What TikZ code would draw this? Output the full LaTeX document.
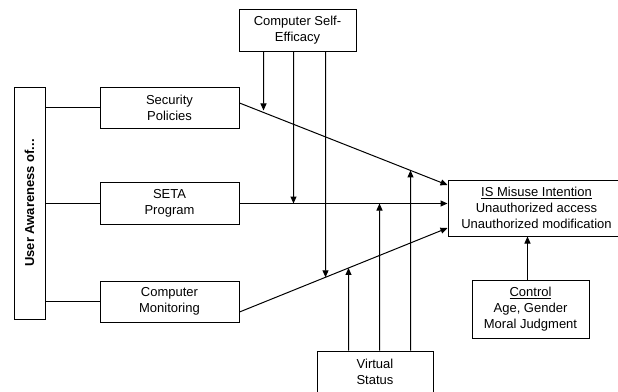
\documentclass[tikz,border=0pt]{standalone}
\usepackage{fontspec}
\setmainfont{Liberation Sans}
\usetikzlibrary{arrows.meta,calc,intersections}
\begin{document}
\begin{tikzpicture}[x=1pt,y=-1pt,
  box/.style={draw,line width=1pt,align=center,inner sep=0pt,
    font=\fontsize{13}{16}\selectfont},
  conn/.style={line width=1pt},
  arr/.style={conn,-{Triangle[length=7pt,width=6pt]}}]
\useasboundingbox (0,0) rectangle (618,391);

% boxes
\node[box,rotate=90,minimum width=232pt,minimum height=31pt,
  font=\bfseries\fontsize{13}{16}\selectfont] (ua) at (29.5,203) {User Awareness of...};
\node[box,minimum width=139pt,minimum height=41pt] (sp) at (169.5,107.5) {Security\\Policies};
\node[box,minimum width=139pt,minimum height=42pt] (seta) at (169.5,203.5) {SETA\\Program};
\node[box,minimum width=139pt,minimum height=41pt] (cm) at (169.5,301.5) {Computer\\Monitoring};
\node[box,minimum width=117pt,minimum height=42pt] (cse) at (297.5,30) {Computer Self-\\Efficacy};
\node[box,minimum width=177pt,minimum height=56pt] (is) at (536.5,208)
  {\underline{IS Misuse Intention}\\Unauthorized access\\Unauthorized modification};
\node[box,minimum width=117pt,minimum height=58pt] (ctl) at (530.5,309)
  {\underline{Control}\\Age, Gender\\Moral Judgment};
\node[box,minimum width=116pt,minimum height=42pt] (vs) at (375,372) {Virtual\\Status};

% awareness links
\draw[conn] (ua.south |- sp.west) -- (sp.west);
\draw[conn] (ua.south |- seta.west) -- (seta.west);
\draw[conn] (ua.south |- cm.west) -- (cm.west);

% main paths into the intention box
\coordinate (spout) at ([yshift=4.5pt]sp.east);
\coordinate (spin) at ([yshift=23pt]is.west);
\coordinate (cmout) at ([yshift=-10.5pt]cm.east);
\coordinate (cmin) at ([yshift=-20pt]is.west);
\draw[arr,name path=lsp] (spout) -- (spin);
\draw[arr,name path=lseta] (seta.east) -- (seta.east -| is.west);
\draw[arr,name path=lcm] (cmout) -- (cmin);

% moderator: computer self-efficacy
\coordinate (c1) at ([xshift=-34pt]cse.south);
\coordinate (c2) at ([xshift=-4pt]cse.south);
\coordinate (c3) at ([xshift=28pt]cse.south);
\path[name path=v1] (c1) -- ++(0,400);
\path[name path=v2] (c2) -- ++(0,400);
\path[name path=v3] (c3) -- ++(0,400);
\path[name intersections={of=lsp and v1,by=t1}];
\path[name intersections={of=lseta and v2,by=t2}];
\path[name intersections={of=lcm and v3,by=t3}];
\draw[arr] (c1) -- ([yshift=2pt]t1);
\draw[arr] (c2) -- (t2);
\draw[arr] (c3) -- (t3);

% moderator: virtual status
\coordinate (s1) at ([xshift=-26.5pt]vs.north);
\coordinate (s2) at ([xshift=4.5pt]vs.north);
\coordinate (s3) at ([xshift=35.5pt]vs.north);
\path[name path=w1] (s1) -- ++(0,-400);
\path[name path=w2] (s2) -- ++(0,-400);
\path[name path=w3] (s3) -- ++(0,-400);
\path[name intersections={of=lcm and w1,by=u1}];
\path[name intersections={of=lseta and w2,by=u2}];
\path[name intersections={of=lsp and w3,by=u3}];
\draw[arr] (s1) -- (u1);
\draw[arr] (s2) -- (u2);
\draw[arr] (s3) -- (u3);

% control variables
\coordinate (k) at ([xshift=-3pt]ctl.north);
\draw[arr] (k) -- (k |- is.south);
\end{tikzpicture}
\end{document}
